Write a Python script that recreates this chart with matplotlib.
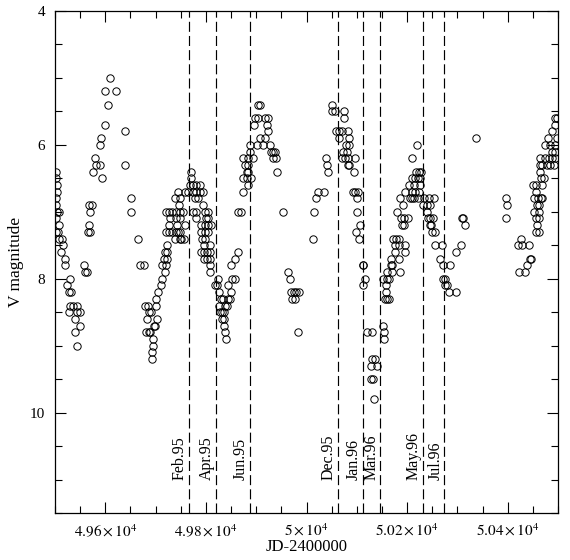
import numpy as np
import matplotlib
matplotlib.use('Agg')
import matplotlib.pyplot as plt
from matplotlib.ticker import MultipleLocator, FuncFormatter

# V band light curve, (JD-2400000, V mag)
obs_a = [(49502, 6.4), (49502, 6.5), (49503, 6.6), (49503, 6.7), (49502, 6.8), (49502, 6.9),
         (49503, 7.0), (49508, 7.0), (49502, 7.1), (49507, 7.2), (49501, 7.3), (49506, 7.3),
         (49507, 7.4), (49514, 7.4), (49515, 7.5), (49512, 7.6), (49520, 7.7), (49519, 7.8),
         (49530, 8.0), (49524, 8.1), (49527, 8.2), (49531, 8.2), (49530, 8.4), (49536, 8.4),
         (49544, 8.4), (49527, 8.5), (49544, 8.5), (49550, 8.5), (49539, 8.6), (49550, 8.7),
         (49540, 8.8), (49543, 9.0),
         (49557, 7.8), (49559, 7.9), (49564, 7.9), (49566, 7.3), (49569, 7.3), (49567, 7.2),
         (49570, 7.0), (49567, 6.9), (49574, 6.9)]
obs_b = [(49575, 6.4), (49579, 6.2), (49582, 6.3), (49590, 6.3), (49594, 6.5), (49590, 6.0),
         (49592, 5.9), (49600, 5.7), (49605, 5.4), (49600, 5.2), (49622, 5.2), (49610, 5.0),
         (49639, 5.8), (49639, 6.3), (49652, 6.8), (49652, 7.0), (49665, 7.4), (49669, 7.8),
         (49676, 7.8)]
obs_c = [(49679, 8.4), (49685, 8.4), (49700, 8.4), (49686, 8.5), (49690, 8.5), (49683, 8.6),
         (49702, 8.6), (49697, 8.7), (49699, 8.7), (49680, 8.8), (49686, 8.8), (49689, 8.8),
         (49695, 8.9), (49695, 9.0), (49693, 9.1), (49693, 9.2), (49700, 8.3), (49705, 8.2),
         (49710, 8.1), (49713, 8.0), (49718, 7.9), (49713, 7.8), (49721, 7.8), (49716, 7.7),
         (49723, 7.7), (49718, 7.6), (49723, 7.6), (49723, 7.5)]
obs_d = [(49738, 7.4), (49748, 7.4), (49751, 7.4), (49757, 7.4), (49793, 7.4), (49799, 7.4),
         (49720, 7.3), (49726, 7.3), (49733, 7.3), (49741, 7.3), (49745, 7.3), (49749, 7.3),
         (49791, 7.3), (49798, 7.3), (49804, 7.3),
         (49726, 7.2), (49743, 7.2), (49758, 7.2), (49791, 7.2), (49798, 7.2), (49804, 7.2), (49811, 7.2),
         (49729, 7.1), (49741, 7.1), (49749, 7.1), (49781, 7.1), (49801, 7.1), (49804, 7.1),
         (49720, 7.0), (49726, 7.0), (49733, 7.0), (49741, 7.0), (49749, 7.0), (49755, 7.0),
         (49775, 7.0), (49781, 7.0), (49798, 7.0), (49804, 7.0),
         (49746, 6.9), (49795, 6.9),
         (49739, 6.8), (49748, 6.8), (49778, 6.8), (49785, 6.8),
         (49745, 6.7), (49758, 6.7), (49765, 6.7), (49775, 6.7), (49781, 6.7), (49788, 6.7), (49795, 6.7),
         (49768, 6.6), (49774, 6.6), (49781, 6.6), (49788, 6.6),
         (49770, 6.5), (49770, 6.4),
         (49796, 7.5), (49808, 7.5), (49791, 7.6), (49796, 7.6), (49803, 7.6), (49808, 7.6),
         (49796, 7.7), (49803, 7.7), (49808, 7.7), (49808, 7.8), (49808, 7.9),
         (49824, 8.0), (49851, 8.0), (49858, 8.0), (49819, 8.1), (49823, 8.1), (49843, 8.1),
         (49826, 8.2), (49850, 8.2), (49830, 8.3), (49834, 8.3), (49844, 8.3), (49848, 8.3),
         (49826, 8.4), (49838, 8.4), (49842, 8.4), (49828, 8.5), (49832, 8.5), (49836, 8.5),
         (49832, 8.6), (49836, 8.6), (49836, 8.7), (49838, 8.8), (49839, 8.9),
         (49850, 7.8), (49858, 7.7), (49864, 7.6), (49864, 7.0), (49869, 7.0)]
obs_e = [(49874, 6.7), (49884, 6.6), (49874, 6.5), (49881, 6.5), (49889, 6.5),
         (49881, 6.4), (49884, 6.4), (49877, 6.3), (49884, 6.3),
         (49874, 6.2), (49884, 6.2), (49894, 6.2), (49934, 6.2), (49940, 6.2),
         (49887, 6.1), (49929, 6.1), (49934, 6.1), (49937, 6.1),
         (49887, 6.0), (49901, 6.0), (49914, 6.0), (49927, 6.0),
         (49907, 5.9), (49917, 5.9), (49924, 5.8), (49896, 5.7), (49921, 5.7),
         (49897, 5.6), (49904, 5.6), (49918, 5.6), (49924, 5.6), (49904, 5.4), (49907, 5.4),
         (49942, 6.4), (49954, 7.0)]
obs_f = [(49964, 7.9), (49967, 8.0), (49970, 8.2), (49975, 8.2), (49980, 8.2), (49985, 8.2),
         (49972, 8.3), (49977, 8.3), (49984, 8.8)]
obs_g = [(50012, 7.4), (50014, 7.0), (50019, 6.8), (50023, 6.7), (50034, 6.7), (50039, 6.2),
         (50041, 6.3), (50043, 6.4), (50051, 5.4), (50050, 5.5), (50057, 5.5), (50074, 5.5),
         (50074, 5.6), (50059, 5.8), (50065, 5.8), (50070, 5.8), (50082, 5.8), (50064, 5.9),
         (50084, 5.9), (50079, 6.0), (50085, 6.0), (50073, 6.1), (50080, 6.1), (50070, 6.2),
         (50076, 6.2), (50082, 6.2), (50096, 6.2), (50082, 6.3), (50085, 6.3), (50094, 6.4),
         (50092, 6.7), (50096, 6.7), (50102, 6.7), (50100, 6.8), (50100, 7.0), (50107, 7.2),
         (50098, 7.3), (50105, 7.4)]
obs_h = [(50112, 7.8), (50113, 7.8), (50116, 8.0), (50113, 8.1), (50121, 8.8), (50130, 8.8),
         (50131, 9.2), (50137, 9.2), (50128, 9.3), (50141, 9.3), (50129, 9.5), (50132, 9.5),
         (50135, 9.8), (50153, 8.7), (50155, 8.8), (50155, 8.9)]
obs_i = [(50156, 8.3), (50161, 8.3), (50165, 8.3), (50158, 8.2), (50158, 8.1),
         (50153, 8.0), (50160, 8.0), (50165, 8.0), (50161, 7.9), (50169, 7.9), (50185, 7.9),
         (50167, 7.8), (50169, 7.8), (50167, 7.7), (50183, 7.7), (50175, 7.6), (50196, 7.6),
         (50175, 7.5), (50183, 7.5), (50196, 7.5), (50172, 7.4), (50178, 7.4), (50184, 7.4),
         (50250, 7.3), (50256, 7.3),
         (50189, 7.2), (50193, 7.2), (50245, 7.2), (50247, 7.2),
         (50188, 7.1), (50193, 7.1), (50201, 7.1), (50242, 7.1), (50245, 7.1), (50251, 7.1),
         (50180, 7.0), (50240, 7.0),
         (50191, 6.9), (50231, 6.9), (50240, 6.9), (50246, 6.9),
         (50185, 6.8), (50205, 6.8), (50209, 6.8), (50214, 6.8), (50221, 6.8), (50234, 6.8),
         (50244, 6.8), (50253, 6.8),
         (50195, 6.7), (50209, 6.7), (50215, 6.7), (50224, 6.7),
         (50203, 6.6), (50213, 6.6), (50225, 6.6),
         (50209, 6.5), (50216, 6.5), (50221, 6.5), (50226, 6.5),
         (50218, 6.4), (50224, 6.4), (50228, 6.4), (50209, 6.2), (50220, 6.0)]
obs_j = [(50256, 7.5), (50269, 7.5), (50307, 7.5), (50298, 7.6), (50265, 7.7), (50272, 7.8),
         (50286, 7.8), (50272, 8.0), (50276, 8.0), (50276, 8.1), (50280, 8.1), (50283, 8.2),
         (50298, 8.2), (50309, 7.1), (50312, 7.1), (50315, 7.2), (50336, 5.9)]
obs_k = [(50397, 6.8), (50399, 6.9), (50397, 7.1),
         (50420, 7.5), (50426, 7.4), (50429, 7.5), (50442, 7.5), (50445, 7.7), (50447, 7.7),
         (50439, 7.8), (50422, 7.9), (50435, 7.9),
         (50457, 7.3), (50462, 7.3), (50459, 7.2), (50456, 7.1), (50462, 7.1),
         (50453, 7.0), (50462, 7.0), (50458, 6.9), (50462, 6.9),
         (50453, 6.8), (50460, 6.8), (50466, 6.8), (50468, 6.8), (50456, 6.7),
         (50450, 6.6), (50457, 6.6), (50469, 6.6), (50467, 6.5), (50473, 6.5), (50465, 6.4),
         (50464, 6.3), (50469, 6.3), (50478, 6.3), (50485, 6.3), (50492, 6.3),
         (50465, 6.2), (50474, 6.2), (50482, 6.2), (50489, 6.2), (50495, 6.2),
         (50489, 6.1), (50495, 6.1), (50474, 6.0), (50485, 6.0), (50495, 6.0),
         (50481, 5.9), (50498, 5.9), (50489, 5.8), (50495, 5.7), (50495, 5.6), (50499, 5.6)]

epoch_jd = [49766, 49820, 49887, 50062, 50112, 50147, 50231, 50274]
epoch_labels = ['Feb.95', 'Apr.95', 'Jun.95', 'Dec.95', 'Jan.96', 'Mar.96', 'May.96', 'Jul.96']

plt.rcParams['font.family'] = ['Liberation Serif', 'DejaVu Serif']
plt.rcParams['mathtext.fontset'] = 'stix'


def jd_fmt(v, pos):
    return r'$%g\times10^4$' % round(v / 1e4, 4)


def main():
    fig = plt.figure(figsize=(5.7, 5.6), dpi=100)
    ax = fig.add_axes([55 / 570, 47 / 560, 503 / 570, 502 / 560])

    for season in [obs_a, obs_b, obs_c, obs_d, obs_e, obs_f, obs_g, obs_h, obs_i, obs_j, obs_k]:
        arr = np.array(season)
        ax.plot(arr[:, 0], arr[:, 1], 'o', mfc='none', mec='black', ms=5.3, mew=0.7)

    for jd, lab in zip(epoch_jd, epoch_labels):
        ax.axvline(jd, color='black', lw=0.85, dashes=(8.5, 3.5))
        ax.text(jd - 2, 11.0, lab, rotation=90, ha='right', va='bottom', fontsize=11.5)

    ax.set_xlim(49500, 50500)
    ax.set_ylim(11.5, 4)
    ax.xaxis.set_major_locator(MultipleLocator(200))
    ax.xaxis.set_minor_locator(MultipleLocator(50))
    ax.xaxis.set_major_formatter(FuncFormatter(jd_fmt))
    ax.yaxis.set_major_locator(MultipleLocator(2))
    ax.yaxis.set_minor_locator(MultipleLocator(0.5))
    ax.tick_params(which='both', direction='in', top=True, right=True, labelsize=11)
    ax.tick_params(which='major', length=8, width=0.8)
    ax.tick_params(which='minor', length=5, width=0.8)
    ax.tick_params(axis='x', pad=7)
    ax.tick_params(axis='y', pad=7)
    for s in ax.spines.values():
        s.set_linewidth(0.9)

    ax.set_xlabel('JD-2400000', fontsize=12)
    ax.set_ylabel('V magnitude', fontsize=12.5)
    ax.xaxis.set_label_coords(0.5, -0.052)
    ax.yaxis.set_label_coords(-0.062, 0.5)

    plt.savefig('out.png', dpi=100)


if __name__ == '__main__':
    main()
